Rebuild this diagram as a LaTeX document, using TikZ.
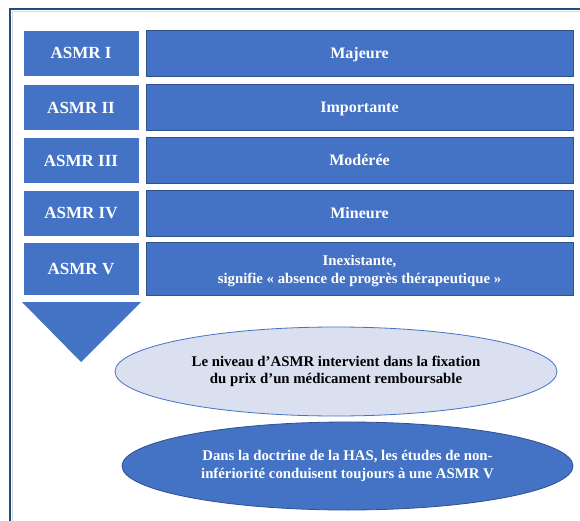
\documentclass[tikz,border=0pt]{standalone}
\usepackage{fontspec}
\setmainfont{Liberation Serif}
\usetikzlibrary{shapes.geometric}
\definecolor{boxblue}{HTML}{4472C4}
\definecolor{darkedge}{HTML}{2F528F}
\definecolor{frameblue}{HTML}{1F4E79}
\definecolor{paleblue}{HTML}{DAE0F0}
\tikzset{
  lbox/.style={rectangle, fill=boxblue, draw=white, line width=0.8pt, minimum width=116pt, inner sep=0pt, text=white, font=\bfseries\fontsize{17}{19}\selectfont, text height=11.3pt, text depth=0pt},
  rbox/.style={rectangle, fill=boxblue, draw=darkedge, line width=0.8pt, minimum width=427pt, inner sep=0pt, text=white, font=\bfseries\fontsize{16}{19}\selectfont, text height=10.6pt, text depth=0pt},
  ell/.style={ellipse, inner sep=0pt, line width=0.8pt, font=\bfseries\fontsize{14.8}{17.5}\selectfont, align=center}
}
\begin{document}
\begin{tikzpicture}[x=1pt,y=-1pt]
\useasboundingbox (0,0) rectangle (580,521);
\fill[white] (0,0) rectangle (580,521);
\draw[frameblue, line width=2pt] (10,540) -- (10,9) -- (600,9);
\draw[black!15, line width=0.6pt] (12.5,540) -- (12.5,11.5) -- (600,11.5);
% rows
\node[lbox, minimum height=46pt] (l1) at (81,53) {ASMR I};
\node[rbox, minimum height=46pt] (r1) at (359.5,53) {Majeure};
\node[lbox, minimum height=46pt] (l2) at (81,107.5) {ASMR II};
\node[rbox, minimum height=46pt] (r2) at (359.5,107.5) {Importante};
\node[lbox, minimum height=46pt] (l3) at (81,160.5) {ASMR III};
\node[rbox, minimum height=46pt] (r3) at (359.5,160.5) {Modérée};
\node[lbox, minimum height=46pt] (l4) at (81,213) {ASMR IV};
\node[rbox, minimum height=46pt] (r4) at (359.5,213) {Mineure};
\node[lbox, minimum height=53pt] (l5) at (81,268.5) {ASMR V};
\node[rbox, minimum height=53pt, text height=, text depth=, align=center, font=\bfseries\fontsize{14.8}{18}\selectfont] (r5) at (359.5,268.5) {\rule{0pt}{16pt}Inexistante,\\signifie « absence de progrès thérapeutique »};
% triangle
\fill[boxblue] (22,302) -- (141,302) -- (81,362) -- cycle;
% ellipses
\node[ell, fill=paleblue, draw=boxblue, minimum width=442pt, minimum height=89pt, text=black] (e1) at (336,371.5) {Le niveau d’ASMR intervient dans la fixation\\du prix d’un médicament remboursable};
\node[ell, fill=boxblue, draw=darkedge, minimum width=451pt, minimum height=88pt, text=white] (e2) at (347.5,466) {Dans la doctrine de la HAS, les études de non-\\infériorité conduisent toujours à une ASMR V};
\end{tikzpicture}
\end{document}
